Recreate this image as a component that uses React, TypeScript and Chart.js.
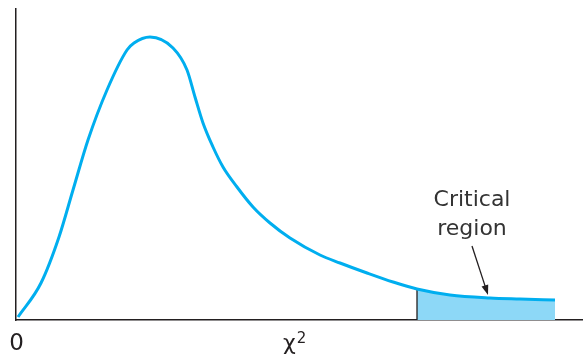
import React, { useEffect, useRef } from "react";
import { Chart, registerables } from "chart.js";

Chart.register(...registerables);

// chi-square values (x) and density heights (y)
const chiValues = [0.1, 1.25, 2.15, 2.85, 3.6, 4.55, 5.55, 5.9, 6.7, 7.85, 8.55, 8.95, 9.35, 9.85, 10.35, 11.05, 11.85, 12.7, 13.7, 15.2, 16.2, 17.55, 18.85, 20.05, 21.7, 23.7, 25.2, 26.95];
const density = [0.3, 3.7, 8.3, 13.0, 18.0, 23.0, 27.0, 27.7, 28.3, 27.2, 25.0, 22.3, 19.7, 17.3, 15.3, 13.3, 11.3, 9.7, 8.2, 6.5, 5.7, 4.7, 3.8, 3.1, 2.5, 2.2, 2.1, 2.0];
const criticalValue = 20.05;
const xMax = 28.35;
const yMax = 31.1;

const axisOriginLabel = "0";
const axisVarLabel = "χ";
const axisVarSup = "2";
const calloutLines = ["Critical", "region"];
const calloutTextX = 22.8;
const calloutStart = { x: 22.8, y: 7.4 };
const calloutTip = { x: 23.6, y: 2.5 };

const curveColor = "#00aeef";
const fillColor = "#8dd8f7";
const inkColor = "#231f20";

export default function App() {
  const ref = useRef<HTMLCanvasElement | null>(null);

  useEffect(() => {
    document.body.style.margin = "0";
    const canvas = ref.current;
    if (!canvas) return;

    const curve = chiValues.map((x, i) => ({ x, y: density[i] }));
    const tail = curve.filter((p) => p.x >= criticalValue);
    const critY = density[chiValues.indexOf(criticalValue)];

    const labelsPlugin = {
      id: "labels",
      afterDraw(chart: any) {
        const { ctx, scales } = chart;
        const xs = scales.x;
        const ys = scales.y;
        ctx.save();
        ctx.fillStyle = inkColor;
        ctx.textBaseline = "alphabetic";
        // origin label
        ctx.font = "23px 'DejaVu Sans'";
        ctx.textAlign = "center";
        ctx.fillText(axisOriginLabel, xs.getPixelForValue(0) + 0.5, 350);
        // chi squared
        ctx.font = "22px 'DejaVu Sans'";
        ctx.textAlign = "left";
        const chiX = 283;
        ctx.fillText(axisVarLabel, chiX, 350);
        const w = ctx.measureText(axisVarLabel).width;
        ctx.font = "15px 'DejaVu Sans'";
        ctx.fillText(axisVarSup, chiX + w + 1, 343);
        // callout text
        ctx.fillStyle = "#333";
        ctx.font = "22px 'DejaVu Sans'";
        ctx.textAlign = "center";
        const tx = xs.getPixelForValue(calloutTextX);
        ctx.fillText(calloutLines[0], tx, 206);
        ctx.fillText(calloutLines[1], tx, 235);
        // arrow
        ctx.fillStyle = inkColor;
        const x1 = xs.getPixelForValue(calloutStart.x);
        const y1 = ys.getPixelForValue(calloutStart.y);
        const x2 = xs.getPixelForValue(calloutTip.x);
        const y2 = ys.getPixelForValue(calloutTip.y);
        const ang = Math.atan2(y2 - y1, x2 - x1);
        const headLen = 10;
        const headW = 3.5;
        ctx.strokeStyle = inkColor;
        ctx.lineWidth = 1.3;
        ctx.beginPath();
        ctx.moveTo(x1, y1);
        ctx.lineTo(x2 - Math.cos(ang) * headLen * 0.8, y2 - Math.sin(ang) * headLen * 0.8);
        ctx.stroke();
        ctx.beginPath();
        ctx.moveTo(x2, y2);
        ctx.lineTo(
          x2 - Math.cos(ang) * headLen - Math.sin(ang) * headW,
          y2 - Math.sin(ang) * headLen + Math.cos(ang) * headW
        );
        ctx.lineTo(
          x2 - Math.cos(ang) * headLen + Math.sin(ang) * headW,
          y2 - Math.sin(ang) * headLen - Math.cos(ang) * headW
        );
        ctx.closePath();
        ctx.fill();
        ctx.restore();
      },
    };

    const chart = new Chart(canvas, {
      type: "line",
      data: {
        datasets: [
          {
            data: curve,
            borderColor: curveColor,
            borderWidth: 3,
            pointRadius: 0,
            cubicInterpolationMode: "monotone",
            fill: false,
            order: 0,
          },
          {
            data: tail,
            borderColor: "rgba(0,0,0,0)",
            borderWidth: 0,
            backgroundColor: fillColor,
            pointRadius: 0,
            cubicInterpolationMode: "monotone",
            fill: "origin",
            order: 2,
          },
          {
            data: [
              { x: criticalValue, y: 0 },
              { x: criticalValue, y: critY },
            ],
            borderColor: inkColor,
            borderWidth: 1.3,
            pointRadius: 0,
            fill: false,
            order: 1,
          },
        ],
      },
      options: {
        responsive: false,
        animation: false,
        events: [],
        layout: { padding: { left: 16, right: 0, top: 9, bottom: 36 } },
        plugins: { legend: { display: false }, tooltip: { enabled: false } },
        scales: {
          x: {
            type: "linear",
            min: 0,
            max: xMax,
            grid: { display: false, drawTicks: false, tickLength: 0 },
            ticks: { display: false, padding: 0 },
            border: { display: true, color: inkColor, width: 1.5 },
          },
          y: {
            type: "linear",
            min: 0,
            max: yMax,
            grid: { display: false, drawTicks: false, tickLength: 0 },
            ticks: { display: false, padding: 0 },
            border: { display: true, color: inkColor, width: 1.5 },
          },
        },
      },
      plugins: [labelsPlugin],
    } as any);

    return () => chart.destroy();
  }, []);

  return (
    <div style={{ position: "fixed", left: 0, top: 0, width: 583, height: 356, background: "#fff" }}>
      <canvas ref={ref} width={583} height={356} />
    </div>
  );
}
